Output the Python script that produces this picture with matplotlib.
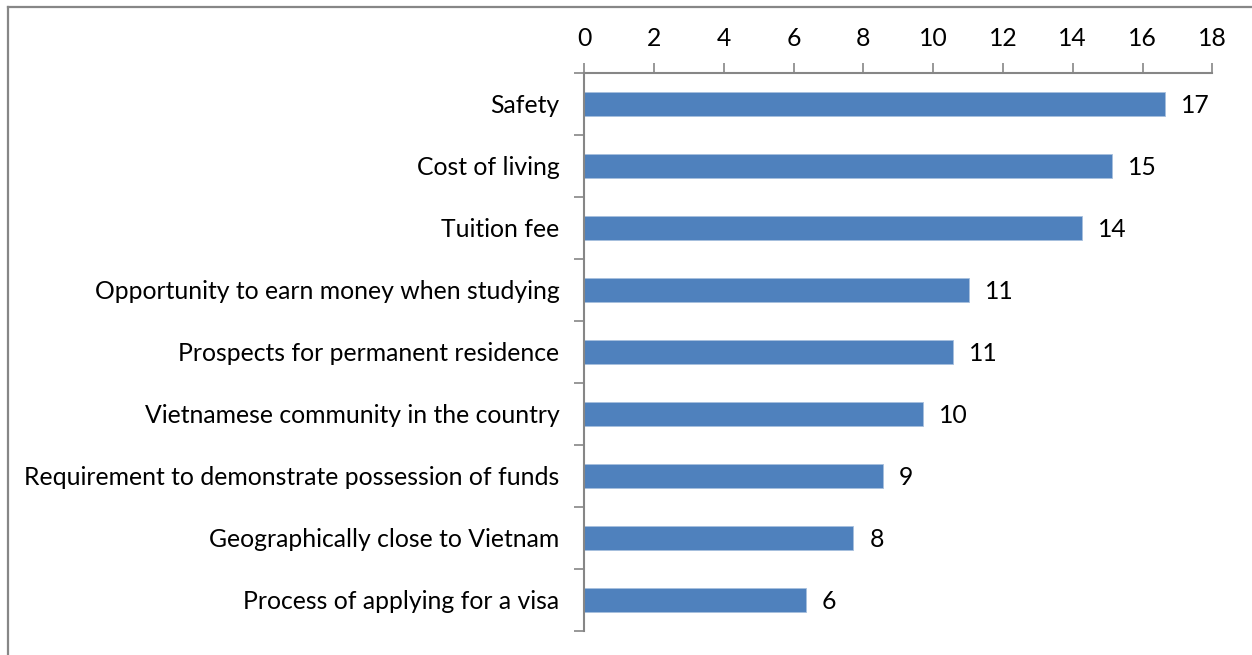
import numpy as np
import matplotlib.pyplot as plt
from matplotlib.lines import Line2D

# survey factors, top to bottom
factors = [
    "Safety",
    "Cost of living",
    "Tuition fee",
    "Opportunity to earn money when studying",
    "Prospects for permanent residence",
    "Vietnamese community in the country",
    "Requirement to demonstrate possession of funds",
    "Geographically close to Vietnam",
    "Process of applying for a visa",
]
scores = [16.64, 15.13, 14.27, 11.03, 10.58, 9.71, 8.55, 7.71, 6.35]
xticks = list(range(0, 19, 2))

W, H = 1252, 655
fig = plt.figure(figsize=(W / 100, H / 100), dpi=100)
plt.rcParams['font.family'] = ['Lato', 'DejaVu Sans']
fs = 17.8

left, right, top, bottom = 584.3, 1212.3, 72.7, 630.7
ax = fig.add_axes([left / W, 1 - bottom / H, (right - left) / W, (bottom - top) / H])

axis_grey = '#868686'
bar_blue = '#4f81bd'
n = len(factors)
ypos = np.arange(n)

ax.barh(ypos, scores, height=0.39, color=bar_blue, edgecolor='#a7bfde', linewidth=0.6, zorder=2)
ax.set_ylim(n - 0.5, -0.5)
ax.set_xlim(0, 18)

# value labels, rounded the way the chart shows them
for y, v in zip(ypos, scores):
    ax.annotate(f"{v:.0f}", (v, y), xytext=(11.5, -1.5), textcoords='offset points',
                va='center', ha='left', fontsize=fs, color='black')

# x axis on top
ax.xaxis.tick_top()
ax.set_xticks(xticks)
ax.set_xticklabels([str(t) for t in xticks], fontsize=fs)
ax.tick_params(axis='x', direction='out', length=7, width=1.2, color=axis_grey, pad=9)

# y axis: ticks at category boundaries, labels at centres
ax.set_yticks(np.arange(-0.5, n, 1))
ax.set_yticklabels([])
ax.set_yticks(ypos, minor=True)
ax.set_yticklabels(factors, minor=True, fontsize=fs)
ax.tick_params(axis='y', which='major', direction='out', length=7, width=1.2, color=axis_grey)
ax.tick_params(axis='y', which='minor', length=0, pad=18)

for side in ['right', 'bottom']:
    ax.spines[side].set_visible(False)
for side in ['top', 'left']:
    ax.spines[side].set_color(axis_grey)
    ax.spines[side].set_linewidth(1.5)

# chart frame (left and top edges)
fx0, fy0 = 7.5 / W, 1 - 7.0 / H
fig.add_artist(Line2D([fx0, fx0], [0, fy0], transform=fig.transFigure, color='#878787', linewidth=1.6))
fig.add_artist(Line2D([fx0, 1], [fy0, fy0], transform=fig.transFigure, color='#878787', linewidth=1.6))

fig.savefig('out.png', dpi=100)
